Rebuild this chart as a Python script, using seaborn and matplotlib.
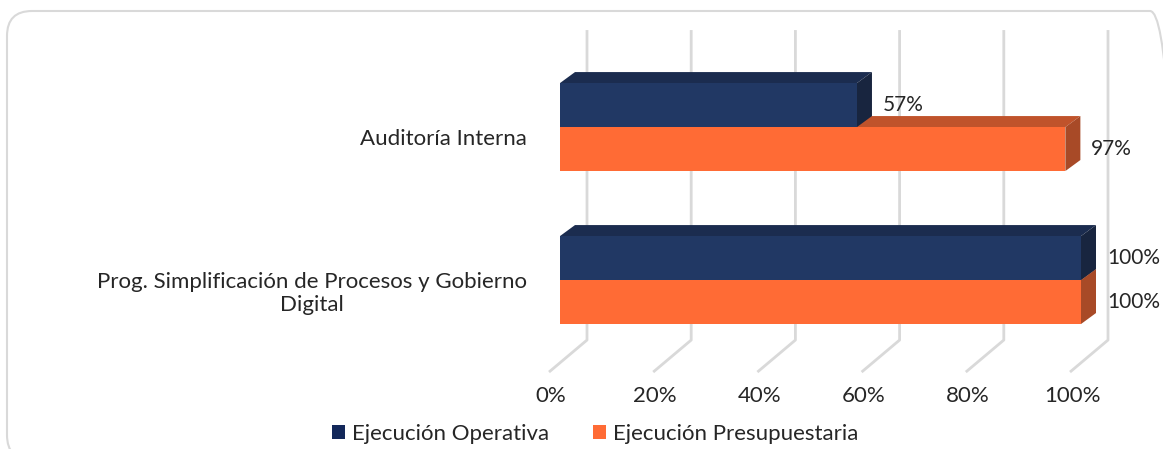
import matplotlib
matplotlib.use("Agg")
import matplotlib.pyplot as plt
import seaborn as sns
import pandas as pd
from matplotlib.patches import Polygon, Patch, FancyBboxPatch
from matplotlib.transforms import ScaledTranslation

# Data
categorias = ["Auditoría Interna", "Prog. Simplificación de Procesos y Gobierno\nDigital"]
series = ["Ejecución Operativa", "Ejecución Presupuestaria"]
operativa = [57, 100]
presupuestaria = [97, 100]
ticks = [0, 20, 40, 60, 80, 100]
tick_labels = ["0%", "20%", "40%", "60%", "80%", "100%"]

df = pd.DataFrame({
    "categoria": categorias * 2,
    "valor": operativa + presupuestaria,
    "serie": [series[0]] * len(categorias) + [series[1]] * len(categorias),
})

# colours: front, top, side
navy = ["#213864", "#1B2C4F", "#18253F"]
orange = ["#FF6B35", "#C0532B", "#A84A27"]
legend_cols = ["#13285A", "#FF6B35"]
grid_col = "#D9D9D9"
text_col = "#262626"

sns.set_theme(style="white")
plt.rcParams["font.family"] = ["Lato", "DejaVu Sans"]

W, H = 1163, 449
fig = plt.figure(figsize=(W / 100, H / 100), dpi=100)
ax = fig.add_axes([560 / W, 1 - 372 / H, 521 / W, (372 - 40) / H])

sns.barplot(
    data=df, y="categoria", x="valor", hue="serie",
    palette=[navy[0], orange[0]], width=0.575, saturation=1,
    edgecolor="none", linewidth=0, legend=False, ax=ax,
)

ax.set_xlim(0, 100)
ax.set_ylim(1.601, -0.569)
ax.set_xlabel("")
ax.set_ylabel("")
sns.despine(ax=ax, left=True, bottom=True)
ax.grid(False)

px_x = 521 / 100   # pixels per percent
px_y = 153         # pixels per category step

# back wall grid + floor lines
y_top = (30 - 127) / px_y
y_fb = (340 - 127) / px_y
y_ff = (372 - 127) / px_y
for v in ticks:
    xb = v + 27 / px_x
    ax.plot([xb, xb, v - 11 / px_x], [y_top, y_fb, y_ff],
            color=grid_col, lw=2, zorder=0, clip_on=False, solid_capstyle="butt")

# 3D faces on the bars
ddx = 15 / px_x
ddy = 11 / px_y
face_sets = [navy] * len(categorias) + [orange] * len(categorias)
for bar, cols in zip(ax.patches[:len(face_sets)], face_sets):
    x0, y0 = bar.get_x(), bar.get_y()
    w, h = bar.get_width(), bar.get_height()
    base = 5 if cols is navy else 2
    bar.set_zorder(base + 1)
    top = [(x0, y0), (x0 + w, y0), (x0 + w + ddx, y0 - ddy), (x0 + ddx, y0 - ddy)]
    side = [(x0 + w, y0), (x0 + w, y0 + h), (x0 + w + ddx, y0 + h - ddy), (x0 + w + ddx, y0 - ddy)]
    ax.add_patch(Polygon(top, closed=True, facecolor=cols[1], edgecolor="none", zorder=base, clip_on=False))
    ax.add_patch(Polygon(side, closed=True, facecolor=cols[2], edgecolor="none", zorder=base, clip_on=False))
    ax.text(x0 + w + 26 / px_x, y0 + h / 2, f"{w:.0f}%", ha="left", va="center",
            fontsize=15, color=text_col, clip_on=False, zorder=8)

# ticks
ax.set_xticks(ticks)
ax.set_xticklabels(tick_labels, fontsize=16, color=text_col)
ax.tick_params(axis="x", length=0, pad=10)
for lab in ax.get_xticklabels():
    lab.set_transform(lab.get_transform() + ScaledTranslation(-9 / 100, 0, fig.dpi_scale_trans))

ax.set_yticks(range(len(categorias)))
ax.set_yticklabels(categorias, fontsize=16, color=text_col)
ax.tick_params(axis="y", length=0, pad=24)
for lab in ax.get_yticklabels():
    lab.set_multialignment("center")
    lab.set_transform(lab.get_transform() + ScaledTranslation(0, -10 / 100, fig.dpi_scale_trans))

# legend
handles = [Patch(facecolor=c, edgecolor="none") for c in legend_cols]
fig.legend(handles, series, loc="center", bbox_to_anchor=(595 / W, 1 - 434 / H),
           ncol=2, frameon=False, fontsize=16, handlelength=0.6, handleheight=0.6,
           handletextpad=0.3, columnspacing=2.0, labelcolor=text_col)

# rounded outer frame
frame = FancyBboxPatch((0.07, -0.11), 11.68, 4.49, boxstyle="round,pad=0,rounding_size=0.25",
                       transform=fig.dpi_scale_trans, facecolor="none",
                       edgecolor=grid_col, lw=1.5)
fig.add_artist(frame)

fig.savefig("out.png", dpi=100)
